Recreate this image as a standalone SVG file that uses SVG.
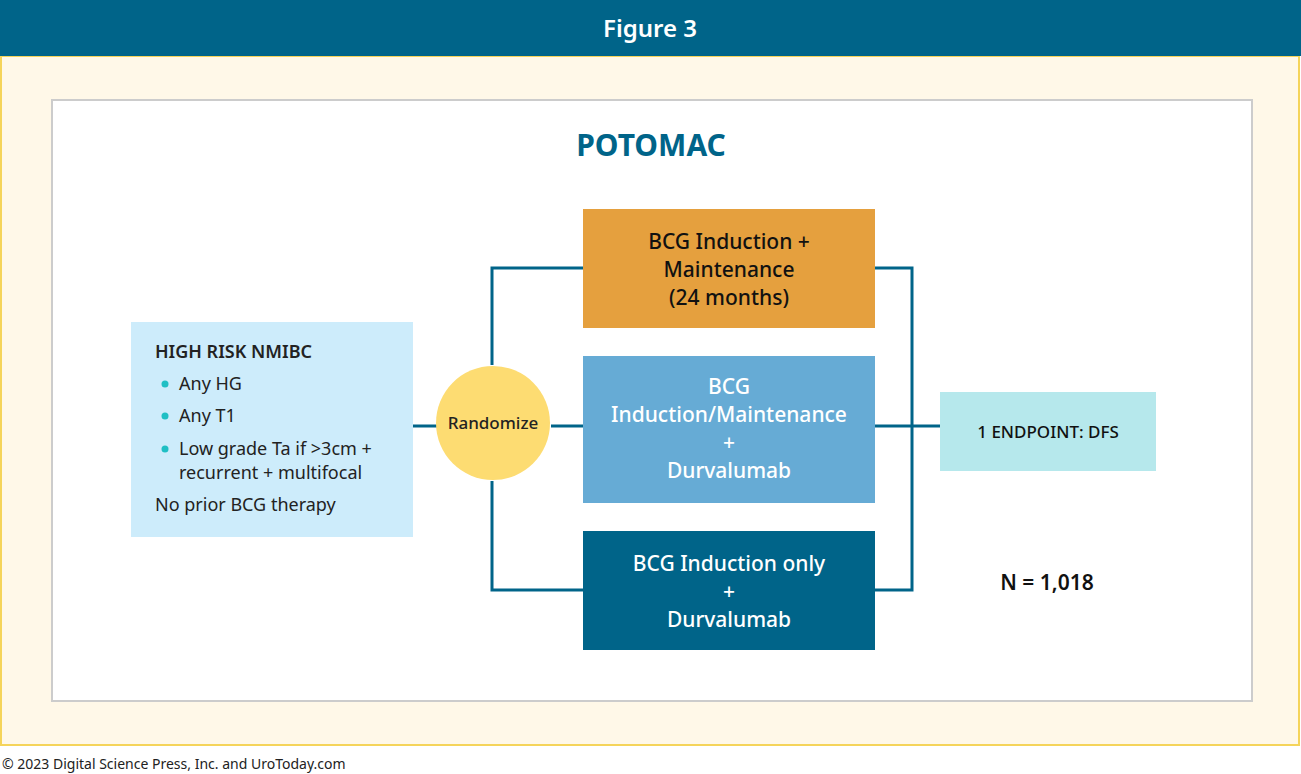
<svg xmlns="http://www.w3.org/2000/svg" width="1301" height="774" viewBox="0 0 1301 774">
<style>
text{font-family:"Noto Sans","Liberation Sans",sans-serif;}
.w{fill:#fff;font-size:21px;text-anchor:middle;font-weight:500}
.d{fill:#222;font-size:18px}
.ln{stroke:#006489;stroke-width:3;fill:none}
</style>
<rect x="0" y="0" width="1301" height="774" fill="#fff"/>
<rect x="1" y="56" width="1298" height="689" fill="#fff8e8" stroke="#f5d45a" stroke-width="2"/>
<rect x="0" y="0" width="1301" height="56" fill="#006489"/>
<text x="650" y="37" class="w" style="font-size:24px;font-weight:600">Figure 3</text>
<rect x="52" y="100" width="1200" height="601" fill="#fff" stroke="#ccc" stroke-width="2"/>
<text x="651" y="156" style="fill:#006489;font-size:30px;font-weight:700;text-anchor:middle">POTOMAC</text>
<g id="connectors">
<path class="ln" d="M492 365 V268 H583 M492 481 V590 H583 M413 426 H437 M551 426 H583 M875 268 H912 V590 H875 M875 426 H940"/>
</g>
<g id="hr">
<rect x="131" y="322" width="282" height="215" fill="#cdecfb"/>
<text x="155" y="358" class="d" style="font-weight:600">HIGH RISK NMIBC</text>
<circle cx="165" cy="384" r="3.5" fill="#1fbfc4"/>
<circle cx="165" cy="416" r="3.5" fill="#1fbfc4"/>
<circle cx="165" cy="449" r="3.5" fill="#1fbfc4"/>
<text x="179" y="390" class="d">Any HG</text>
<text x="179" y="422" class="d">Any T1</text>
<text x="179" y="455" class="d">Low grade Ta if &gt;3cm +</text>
<text x="179" y="479" class="d">recurrent + multifocal</text>
<text x="155" y="511" class="d">No prior BCG therapy</text>
</g>
<g id="rand">
<circle cx="493" cy="423" r="57" fill="#fddc72"/>
<text x="493" y="429" class="d" style="font-size:17px;text-anchor:middle;font-weight:500">Randomize</text>
</g>
<g id="a1">
<rect x="583" y="209" width="292" height="119" fill="#e5a03e"/>
<text x="729" y="249" class="d" style="font-size:21px;text-anchor:middle;font-weight:500;fill:#111">BCG Induction +</text>
<text x="729" y="277" class="d" style="font-size:21px;text-anchor:middle;font-weight:500;fill:#111">Maintenance</text>
<text x="729" y="305" class="d" style="font-size:21px;text-anchor:middle;font-weight:500;fill:#111">(24 months)</text>
</g>
<g id="a2">
<rect x="583" y="356" width="292" height="147" fill="#66abd5"/>
<text x="729" y="394" class="w">BCG</text>
<text x="729" y="422" class="w">Induction/Maintenance</text>
<text x="729" y="450" class="w">+</text>
<text x="729" y="478" class="w">Durvalumab</text>
</g>
<g id="a3">
<rect x="583" y="531" width="292" height="119" fill="#006489"/>
<text x="729" y="571" class="w">BCG Induction only</text>
<text x="729" y="599" class="w">+</text>
<text x="729" y="627" class="w">Durvalumab</text>
</g>
<g id="ep">
<rect x="940" y="392" width="216" height="79" fill="#b6e8ec"/>
<text x="1048" y="438" class="d" style="font-size:17px;text-anchor:middle;font-weight:500;fill:#111">1 ENDPOINT: DFS</text>
</g>
<text x="1047" y="590" class="d" style="font-size:21px;text-anchor:middle;font-weight:600;fill:#111">N = 1,018</text>
<text x="2" y="769" style="fill:#222;font-size:14px">© 2023 Digital Science Press, Inc. and UroToday.com</text>
</svg>
